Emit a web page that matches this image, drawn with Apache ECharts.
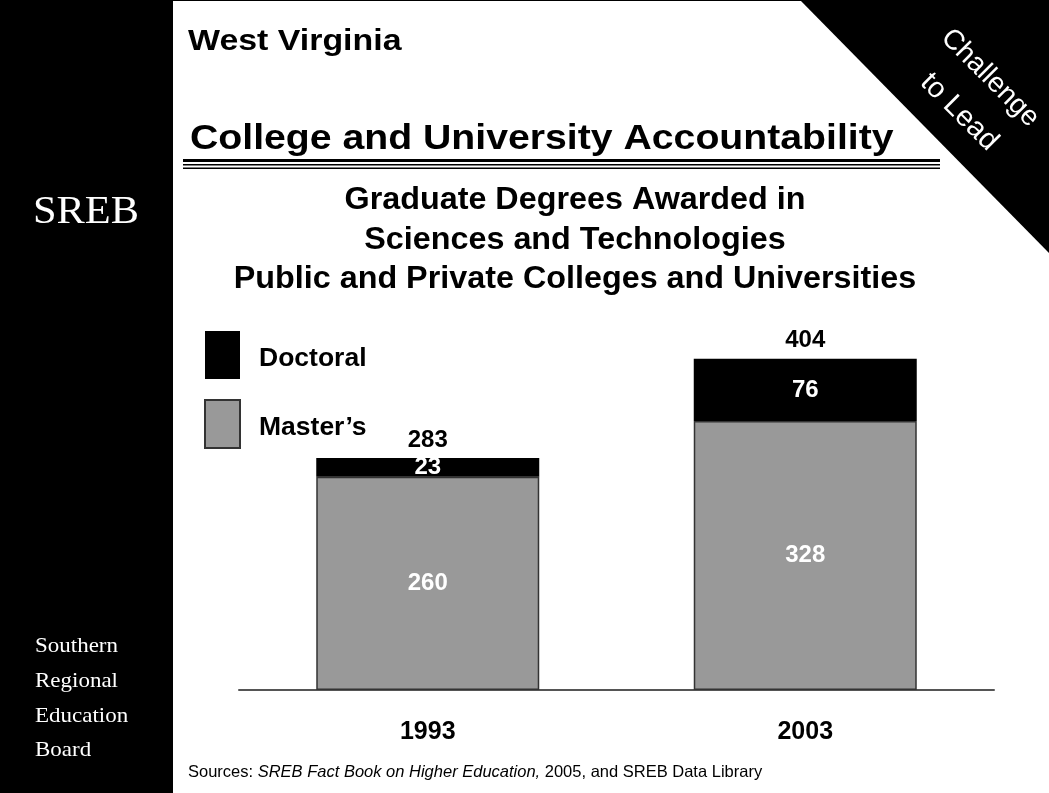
<!DOCTYPE html>
<html>
<head>
<meta charset="utf-8">
<script src="https://cdn.jsdelivr.net/npm/echarts@6.0.0/dist/echarts.min.js"></script>
<style>
  html, body { margin: 0; padding: 0; background: #fff; }
  #chart { width: 1049px; height: 793px; }
</style>
</head>
<body>
<div id="chart"></div>
<script>
// Graduate degrees awarded in sciences and technologies, West Virginia
const years = ['1993', '2003'];
const masters = [260, 328];
const doctoral = [23, 76];
const totals = [283, 404];
const seriesNames = ['Doctoral', "Master\u2019s"];

const SANS = "'Liberation Sans', Arial, Helvetica, sans-serif";
const SERIF = "'Liberation Serif', 'Times New Roman', serif";

const chart = echarts.init(document.getElementById('chart'), null, { renderer: 'canvas' });

function sideText(text, y) {
  return { type: 'text', x: 35, y: y, scaleX: 1.045,
    style: { text: text, font: '22px ' + SERIF, fill: '#fff', verticalAlign: 'middle' } };
}

const decor = [
  // left sidebar
  { type: 'rect', shape: { x: 0, y: 0, width: 173, height: 793 }, style: { fill: '#000' }, z: 0 },
  { type: 'rect', shape: { x: 0, y: 0, width: 1049, height: 1 }, style: { fill: '#000' }, z: 0 },
  { type: 'text', x: 33, y: 212, scaleX: 1.06, style: { text: 'SREB', font: '40px ' + SERIF, fill: '#fff', verticalAlign: 'middle' } },
  sideText('Southern', 646),
  sideText('Regional', 681),
  sideText('Education', 716),
  sideText('Board', 750),
  // corner banner
  { type: 'polygon', shape: { points: [[800, 0], [1049, 0], [1049, 253]] }, style: { fill: '#000' }, z: 0 },
  { type: 'text', x: 990, y: 78, rotation: -Math.PI / 4, style: { text: 'Challenge', font: '28px ' + SANS, fill: '#fff', align: 'center', verticalAlign: 'middle' }, z: 1 },
  { type: 'text', x: 959, y: 112, rotation: -Math.PI / 4, style: { text: 'to Lead', font: '29px ' + SANS, fill: '#fff', align: 'center', verticalAlign: 'middle' }, z: 1 },
  // headings
  { type: 'text', x: 188, y: 42, scaleX: 1.13, style: { text: 'West Virginia', font: 'bold 30px ' + SANS, fill: '#000', verticalAlign: 'middle' } },
  { type: 'text', x: 190, y: 139, scaleX: 1.12, style: { text: 'College and University Accountability', font: 'bold 35px ' + SANS, fill: '#000', verticalAlign: 'middle' } },
  { type: 'rect', shape: { x: 183, y: 159, width: 757, height: 3 }, style: { fill: '#000' } },
  { type: 'rect', shape: { x: 183, y: 164, width: 757, height: 1.5 }, style: { fill: '#000' } },
  { type: 'rect', shape: { x: 183, y: 167.5, width: 757, height: 1.5 }, style: { fill: '#000' } },
  // chart title
  { type: 'text', x: 575, y: 200, scaleX: 1.01, style: { text: 'Graduate Degrees Awarded in', font: 'bold 32px ' + SANS, fill: '#000', align: 'center', verticalAlign: 'middle' } },
  { type: 'text', x: 575, y: 240, scaleX: 1.01, style: { text: 'Sciences and Technologies', font: 'bold 32px ' + SANS, fill: '#000', align: 'center', verticalAlign: 'middle' } },
  { type: 'text', x: 575, y: 279, scaleX: 1.01, style: { text: 'Public and Private Colleges and Universities', font: 'bold 32px ' + SANS, fill: '#000', align: 'center', verticalAlign: 'middle' } },
  // source note
  { type: 'text', x: 188, y: 772, style: {
      text: '{n|Sources: }{i|SREB Fact Book on Higher Education,}{n| 2005, and SREB Data Library}',
      verticalAlign: 'middle',
      rich: {
        n: { font: '16.5px ' + SANS, fill: '#000' },
        i: { font: 'italic 16.5px ' + SANS, fill: '#000' }
      }
  } }
];

const barLabel = {
  show: true,
  position: 'inside',
  color: '#fff',
  fontFamily: SANS,
  fontWeight: 'bold',
  fontSize: 24
};

chart.setOption({
  animation: false,
  backgroundColor: '#fff',
  graphic: decor,
  legend: {
    data: seriesNames,
    orient: 'vertical',
    left: 204,
    top: 331,
    padding: 0,
    itemWidth: 35,
    itemHeight: 48,
    itemGap: 20,
    icon: 'rect',
    formatter: '{t|{name}}',
    textStyle: {
      padding: [0, 0, 0, 14],
      rich: {
        t: { fontFamily: SANS, fontWeight: 'bold', fontSize: 26.5, color: '#000', padding: [8, 0, 0, 0] }
      }
    }
  },
  grid: { left: 239, right: 55, top: 280, bottom: 103, containLabel: false },
  xAxis: {
    type: 'category',
    data: years,
    axisLine: { lineStyle: { color: '#555', width: 2 } },
    axisTick: { show: false },
    axisLabel: { margin: 30, color: '#000', fontFamily: SANS, fontWeight: 'bold', fontSize: 25 }
  },
  yAxis: { type: 'value', min: 0, max: 500, show: false, splitLine: { show: false } },
  series: [
    {
      name: "Master\u2019s",
      type: 'bar',
      stack: 'degrees',
      barWidth: 223,
      data: masters,
      itemStyle: { color: '#999999', borderColor: '#333', borderWidth: 1.5 },
      label: barLabel,
      z: 3
    },
    {
      name: 'Doctoral',
      type: 'bar',
      stack: 'degrees',
      barWidth: 223,
      data: doctoral,
      itemStyle: { color: '#000' },
      label: barLabel,
      z: 3
    },
    {
      name: 'Total',
      type: 'bar',
      barWidth: 223,
      barGap: '-100%',
      data: totals,
      silent: true,
      itemStyle: { color: 'rgba(0,0,0,0)' },
      label: { show: true, position: 'top', distance: 6, color: '#000', fontFamily: SANS, fontWeight: 'bold', fontSize: 24 },
      z: 2
    }
  ]
});
</script>
</body>
</html>
